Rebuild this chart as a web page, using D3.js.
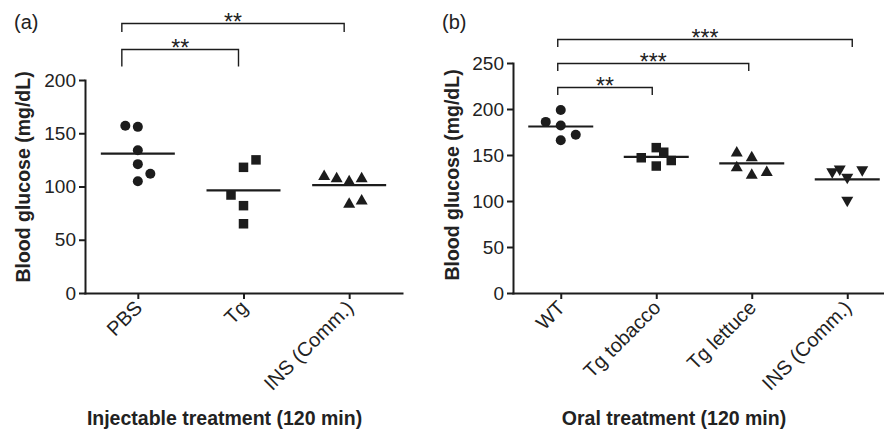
<!DOCTYPE html>
<html>
    <head>
        <meta charset="utf-8">
        <title>Blood glucose</title>
        <script src="https://d3js.org/d3.v7.min.js"></script>
        <style>
            body { margin: 0; background: #fff; }
            text { font-family: "Liberation Sans", Arial, Helvetica, sans-serif; fill: #222; }
        </style>
    </head>
    <body>
        <script>

            // (a) injectable treatment
            var catsA = ["PBS", "Tg", "INS (Comm.)"];
            var pbsA = [157, 156, 134, 121, 112, 105];
            var tgA = [118, 125, 92, 82, 65];
            var insA = [111, 109, 106, 109, 85, 88];
            // column slot of each point (Prism style scatter)
            var pbsSlotA = [-1, 0, 0, 0, 1, 0];
            var tgSlotA = [0, 1, -1, 0, 0];
            var insSlotA = [-2, -1, 0, 1, 0, 1];
            var ticksA = [0, 50, 100, 150, 200];
            var sigA = [["PBS", "Tg", "**"], ["PBS", "INS (Comm.)", "**"]];

            // (b) oral treatment
            var catsB = ["WT", "Tg tobacco", "Tg lettuce", "INS (Comm.)"];
            var wtB = [199, 186, 182, 172, 166];
            var tobaccoB = [158, 153, 147, 144, 138];
            var lettuceB = [154, 149, 138, 130, 133];
            var insB = [130, 133, 124, 132, 99];
            var wtSlotB = [0, -1, 0, 1, 0];
            var tobaccoSlotB = [0, 0.5, -1, 1, 0];
            var lettuceSlotB = [-1, 0, -1, 0, 1];
            var insSlotB = [-1, -0.5, 0, 1, 0];
            var ticksB = [0, 50, 100, 150, 200, 250];
            var sigB = [["WT", "Tg tobacco", "**"], ["WT", "Tg lettuce", "***"], ["WT", "INS (Comm.)", "***"]];

            var ink = "#1c1c1c";

            var svg = d3.select("body")
              .append("svg")
                .attr("width", 884)
                .attr("height", 435);

            function triangle(w, h, down) {
                var p = d3.path(), s = down ? -1 : 1;
                p.moveTo(0, -s * h / 2);
                p.lineTo(w / 2, s * h / 2);
                p.lineTo(-w / 2, s * h / 2);
                p.closePath();
                return p.toString();
            }

            var shapes = {
                circle: d3.symbol(d3.symbolCircle, Math.PI * 5 * 5)(),
                square: d3.symbol(d3.symbolSquare, 9.5 * 9.5)(),
                up: triangle(12, 10.5, false),
                down: triangle(12, 10.5, true)
            };

            function drawPanel(p) {
                var x = d3.scalePoint().domain(p.cats).range(p.xRange).padding(0.5);
                var y = d3.scaleLinear().domain([0, p.yMax]).range(p.yRange);
                var g = svg.append("g");

                // axes
                var ya = g.append("g")
                    .attr("transform", "translate(" + p.xRange[0] + ",0)")
                    .call(d3.axisLeft(y).tickValues(p.yTicks).tickSize(6).tickSizeOuter(0).tickPadding(3));
                var xa = g.append("g")
                    .attr("transform", "translate(0," + p.yRange[0] + ")")
                    .call(d3.axisBottom(x).tickSize(6).tickSizeOuter(0));
                [ya, xa].forEach(function (a) {
                    a.selectAll("path, line").attr("stroke", ink).attr("stroke-width", 2);
                    a.select(".domain").attr("stroke-linecap", "square");
                    a.selectAll("text").attr("fill", ink).style("font-family", "Liberation Sans, Arial, sans-serif");
                });
                ya.selectAll("text").style("font-size", "19px");
                xa.selectAll("text")
                    .style("font-size", "20px")
                    .attr("x", 0).attr("y", 0).attr("dy", 0)
                    .attr("text-anchor", "end")
                    .attr("transform", "translate(5,16) rotate(-45)");

                // points and mean lines
                p.groups.forEach(function (vals, i) {
                    var cx = x(p.cats[i]);
                    g.append("g").selectAll("path")
                      .data(d3.zip(vals, p.slots[i]))
                      .join("path")
                        .attr("d", shapes[p.shapes[i]])
                        .attr("fill", ink)
                        .attr("transform", function (d) {
                            return "translate(" + (cx + d[1] * p.slotW) + "," + y(d[0]) + ")";
                        });
                    var m = y(d3.mean(vals));
                    g.append("line")
                        .attr("x1", cx - p.meanHalf).attr("x2", cx + p.meanHalf)
                        .attr("y1", m).attr("y2", m)
                        .attr("stroke", ink).attr("stroke-width", 2.2);
                });

                // significance brackets
                p.sig.forEach(function (s, i) {
                    var lv = p.sigLevels[i];
                    var x1 = x(s[0]) + lv.dx[0], x2 = x(s[1]) + lv.dx[1];
                    g.append("path")
                        .attr("d", "M" + x1 + "," + (lv.y + lv.leg) + "V" + lv.y + "H" + x2 + "V" + (lv.y + lv.leg))
                        .attr("fill", "none").attr("stroke", ink).attr("stroke-width", 1.4);
                    g.append("text")
                        .attr("x", (x1 + x2) / 2).attr("y", lv.y + 6)
                        .attr("text-anchor", "middle")
                        .style("font-size", "23px")
                        .text(s[2]);
                });

                // labels
                g.append("text")
                    .attr("x", p.tag[0]).attr("y", p.tag[1])
                    .style("font-size", "20px")
                    .text(p.tagText);
                g.append("text")
                    .attr("transform", "translate(" + p.yLab[0] + "," + p.yLab[1] + ") rotate(-90)")
                    .attr("text-anchor", "middle")
                    .style("font-size", "19.5px").style("font-weight", "bold")
                    .text("Blood glucose (mg/dL)");
                g.append("text")
                    .attr("x", p.xLab[0]).attr("y", p.xLab[1])
                    .attr("text-anchor", "middle")
                    .style("font-size", "19.5px").style("font-weight", "bold")
                    .text(p.xTitle);
            }

            drawPanel({
                cats: catsA,
                groups: [pbsA, tgA, insA],
                slots: [pbsSlotA, tgSlotA, insSlotA],
                shapes: ["circle", "square", "up"],
                yMax: 200, yTicks: ticksA,
                xRange: [85, 402], yRange: [293, 80],
                slotW: 12.5, meanHalf: 37,
                sig: sigA,
                sigLevels: [{y: 49.5, leg: 17, dx: [-16, -5]}, {y: 23.5, leg: 8.5, dx: [-16, -5]}],
                tag: [14, 29], tagText: "(a)",
                yLab: [30, 177],
                xLab: [224.5, 425], xTitle: "Injectable treatment (120 min)"
            });

            drawPanel({
                cats: catsB,
                groups: [wtB, tobaccoB, lettuceB, insB],
                slots: [wtSlotB, tobaccoSlotB, lettuceSlotB, insSlotB],
                shapes: ["circle", "square", "up", "down"],
                yMax: 250, yTicks: ticksB,
                xRange: [513, 895], yRange: [293, 63],
                slotW: 15, meanHalf: 32.5,
                sig: sigB,
                sigLevels: [{y: 87.5, leg: 7.5, dx: [-3, -4]}, {y: 63.5, leg: 7.5, dx: [-3, -3]}, {y: 39.5, leg: 7.5, dx: [-3, 5]}],
                tag: [442, 29], tagText: "(b)",
                yLab: [459, 175],
                xLab: [674, 425], xTitle: "Oral treatment (120 min)"
            });

        </script>
    </body>
</html>
